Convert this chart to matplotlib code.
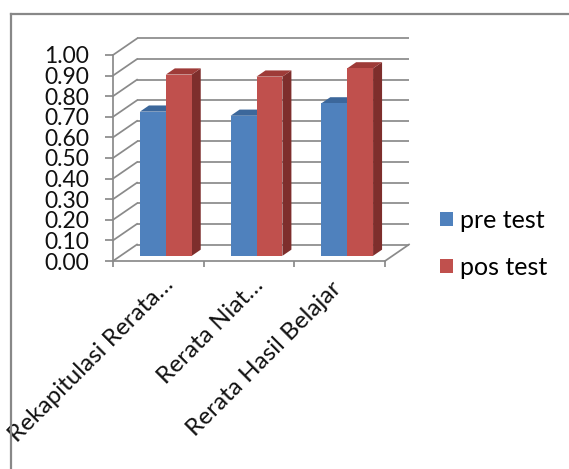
import matplotlib
matplotlib.use("Agg")
import matplotlib.pyplot as plt
from matplotlib.patches import Polygon, Patch
from matplotlib.lines import Line2D
from matplotlib.transforms import ScaledTranslation

# ---------------- data ----------------
categories = ["Rekapitulasi Rerata\u2026", "Rerata Niat\u2026", "Rerata Hasil Belajar"]
series_names = ["pre test", "pos test"]
pre_test = [0.70, 0.68, 0.74]
pos_test = [0.88, 0.87, 0.91]
y_ticks = [0.0, 0.1, 0.2, 0.3, 0.4, 0.5, 0.6, 0.7, 0.8, 0.9, 1.0]
y_tick_labels = ["%.2f" % v for v in y_ticks]

# ---------------- style ----------------
front_colors = ["#4F81BD", "#C0504D"]
top_colors = ["#3C679B", "#9E3B38"]
side_colors = ["#2F5381", "#7E2E2C"]
grid_color = "#8A8A8A"
FONT = "Lato"
plt.rcParams["font.family"] = [FONT, "DejaVu Sans"]

W, H = 569, 469
fig = plt.figure(figsize=(W / 100, H / 100), dpi=100)

# geometry (pixels) of the front plot rectangle and the depth vector
x0_px, x1_px = 113, 385
y0_px, y1_px = 261, 55
depth_px = (24, 16.5)
ncat = len(categories)
px_per_x = (x1_px - x0_px) / ncat
px_per_y = (y0_px - y1_px) / 1.0
DX = depth_px[0] / px_per_x
DY = depth_px[1] / px_per_y

ax = fig.add_axes([x0_px / W, (H - y0_px) / H,
                   (x1_px - x0_px + depth_px[0]) / W,
                   (y0_px - y1_px + depth_px[1]) / H])
ax.set_xlim(0, ncat + DX)
ax.set_ylim(0, 1 + DY)
ax.patch.set_alpha(0)
for s in ax.spines.values():
    s.set_visible(False)

lw = 1.25
# back wall gridlines + left wall diagonals
for v in y_ticks:
    ax.plot([DX, ncat + DX], [v + DY, v + DY], color=grid_color, lw=lw,
            clip_on=False, zorder=1, solid_capstyle="butt")
    ax.plot([0, DX], [v, v + DY], color=grid_color, lw=lw, clip_on=False, zorder=1)
# front vertical axis
ax.plot([0, 0], [0, 1], color=grid_color, lw=lw, clip_on=False, zorder=2)
# floor front edge and right diagonal
ax.plot([0, ncat], [0, 0], color=grid_color, lw=lw, clip_on=False, zorder=2)
ax.plot([ncat, ncat + DX], [0, DY], color=grid_color, lw=lw, clip_on=False, zorder=2)

# ticks
ax.set_yticks(y_ticks)
ax.set_yticklabels(y_tick_labels, fontsize=16.5, color="#111111")
ax.tick_params(axis="y", length=6, width=lw, color=grid_color, pad=11, direction="out")
ax.set_xticks(list(range(ncat + 1)))
ax.set_xticklabels([])
ax.tick_params(axis="x", length=4.5, width=lw, color=grid_color, direction="out")

# 3D bars
gap = 1.5
bw = 1.0 / (len(series_names) + gap)
f0, f1 = 0.3125, 0.6875
series = [pre_test, pos_test]
for i in range(ncat):
    for k, vals in enumerate(series):
        v = vals[i]
        xl = i + gap * bw / 2 + k * bw
        xr = xl + bw
        ox0, oy0 = f0 * DX, f0 * DY
        ox1, oy1 = f1 * DX, f1 * DY
        front = [(xl + ox0, oy0), (xr + ox0, oy0), (xr + ox0, v + oy0), (xl + ox0, v + oy0)]
        top = [(xl + ox0, v + oy0), (xr + ox0, v + oy0), (xr + ox1, v + oy1), (xl + ox1, v + oy1)]
        side = [(xr + ox0, oy0), (xr + ox1, oy1), (xr + ox1, v + oy1), (xr + ox0, v + oy0)]
        z = 5 + k
        ax.add_patch(Polygon(side, closed=True, fc=side_colors[k], ec="none", clip_on=False, zorder=z))
        ax.add_patch(Polygon(top, closed=True, fc=top_colors[k], ec="none", clip_on=False, zorder=z))
        ax.add_patch(Polygon(front, closed=True, fc=front_colors[k], ec="none", clip_on=False, zorder=z))

# category labels (pixel offsets of each label's anchor from its category centre)
label_offsets_px = [(4, -13), (4, -13), (-9, -17)]
for i, lab in enumerate(categories):
    dxp, dyp = label_offsets_px[i]
    off = ScaledTranslation(dxp / 100, dyp / 100, fig.dpi_scale_trans)
    ax.text(i + 0.5, 0, lab, rotation=45, ha="right", va="top",
            rotation_mode="anchor", fontsize=17.5, color="#111111",
            transform=ax.transData + off, clip_on=False)

# legend
handles = [Patch(fc=front_colors[k], ec="none") for k in range(len(series_names))]
fig.legend(handles, series_names, loc="center left",
           bbox_to_anchor=(440 / W, 1 - 244 / H), frameon=False,
           fontsize=18, handlelength=0.5, handleheight=0.5,
           handletextpad=0.3, labelspacing=0.95, borderpad=0, borderaxespad=0)

# outer frame (left and top edges visible)
fig.add_artist(Line2D([10.5 / W, 10.5 / W], [0, 1 - 14.5 / H], color="#888888", lw=1.6,
                      transform=fig.transFigure))
fig.add_artist(Line2D([10.5 / W, 1], [1 - 14.5 / H, 1 - 14.5 / H], color="#888888", lw=1.6,
                      transform=fig.transFigure))

fig.savefig("out.png", dpi=100)
